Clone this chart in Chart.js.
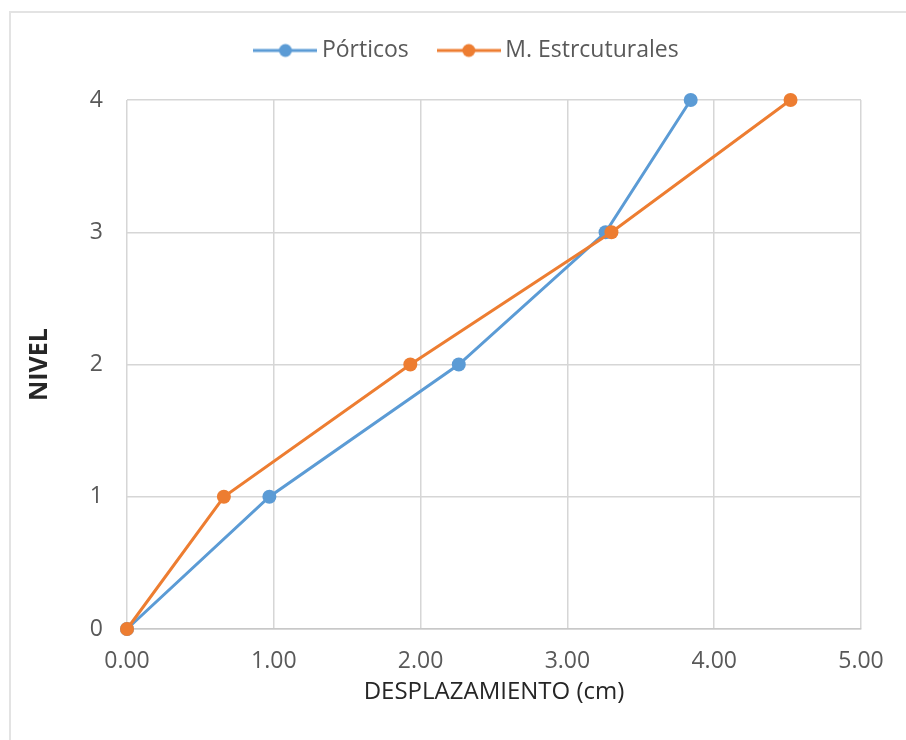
<!DOCTYPE html>
<html>
<head>
<meta charset="utf-8">
<script src="https://cdn.jsdelivr.net/npm/chart.js@4.4.0/dist/chart.umd.min.js"></script>
<style>
  html, body { margin: 0; padding: 0; background: #fff; }
  #wrap { position: relative; width: 906px; height: 740px; }
  #frame { position: absolute; left: 9px; top: 11px; right: 0; bottom: 0;
           border-left: 2px solid #e3e3e3; border-top: 2px solid #e3e3e3; }
  canvas { position: absolute; left: 0; top: 0; }
</style>
</head>
<body>
<div id="wrap">
  <div id="frame"></div>
  <canvas id="chart" width="906" height="740"></canvas>
</div>
<script>
// niveles y desplazamientos (cm)
const niveles = [0, 1, 2, 3, 4];
const porticos = [0, 0.97, 2.26, 3.26, 3.84];
const murosEstructurales = [0, 0.66, 1.93, 3.30, 4.52];
const seriesNames = ['Pórticos', 'M. Estrcuturales'];
const seriesColors = ['#5B9BD5', '#ED7D31'];
const xTicks = [0, 1, 2, 3, 4, 5];

const FONT = '"Open Sans", "DejaVu Sans", sans-serif';

// legend marker: line with a dot, Excel style
function legendMarker(color){
  const c = document.createElement('canvas');
  c.width = 64; c.height = 16;
  const g = c.getContext('2d');
  g.strokeStyle = color; g.lineWidth = 3;
  g.beginPath(); g.moveTo(0, 8); g.lineTo(64, 8); g.stroke();
  g.fillStyle = color;
  g.beginPath(); g.arc(32, 8, 6.5, 0, Math.PI*2); g.fill();
  return c;
}

const toPoints = xs => xs.map((x, i) => ({ x: x, y: niveles[i] }));

// extra room under the legend, and nudge it a bit to the right
const legendSpace = {
  id: 'legendSpace',
  beforeInit(chart){
    const fit = chart.legend.fit;
    chart.legend.fit = function(){
      fit.bind(chart.legend)();
      this.height += 28;
      if (this.lineWidths && this.lineWidths.length) this.lineWidths[0] -= 58;
    };
  }
};

new Chart(document.getElementById('chart').getContext('2d'), {
  type: 'scatter',
  data: {
    datasets: [
      { label: seriesNames[0], data: toPoints(porticos), showLine: true, clip: false,
        borderColor: seriesColors[0], backgroundColor: seriesColors[0],
        borderWidth: 3, pointRadius: 7, pointBorderWidth: 0, order: 1 },
      { label: seriesNames[1], data: toPoints(murosEstructurales), showLine: true, clip: false,
        borderColor: seriesColors[1], backgroundColor: seriesColors[1],
        borderWidth: 3, pointRadius: 7, pointBorderWidth: 0, order: 0 }
    ]
  },
  options: {
    responsive: false,
    animation: false,
    layout: { padding: { left: 20, right: 45, top: 4, bottom: 20 } },
    plugins: {
      tooltip: { enabled: false },
      legend: {
        position: 'top',
        labels: {
          usePointStyle: true,
          pointStyleWidth: 50,
          padding: 35,
          color: '#595959',
          font: { family: FONT, size: 23 },
          generateLabels: chart => chart.data.datasets.map((ds, i) => ({
            text: ds.label, pointStyle: legendMarker(seriesColors[i]),
            fillStyle: seriesColors[i], strokeStyle: seriesColors[i],
            lineWidth: 0, datasetIndex: i, hidden: false, fontColor: '#595959'
          }))
        }
      }
    },
    scales: {
      x: {
        type: 'linear', min: 0, max: 5,
        afterBuildTicks: s => { s.ticks = xTicks.map(v => ({ value: v })); },
        afterFit: s => { s.height = 91; },
        grid: { color: '#d6d6d6', lineWidth: 1.5, drawTicks: false },
        border: { display: true, color: '#c8c8c8', width: 1.5 },
        ticks: { padding: 19, color: '#595959', font: { family: FONT, size: 23 },
                 maxRotation: 0, callback: v => v.toFixed(2) },
        title: { display: true, text: 'DESPLAZAMIENTO (cm)', color: '#262626',
                 font: { family: FONT, size: 24 }, padding: { top: 4, bottom: 13 } }
      },
      y: {
        type: 'linear', min: 0, max: 4,
        ticks: { stepSize: 1, padding: 24, color: '#595959', font: { family: FONT, size: 23 } },
        grid: { color: '#d6d6d6', lineWidth: 1.5, drawTicks: false },
        border: { display: false },
        title: { display: true, text: 'NIVEL', color: '#262626',
                 font: { family: FONT, size: 25, weight: 'bold' }, padding: { top: 5, bottom: 0 } },
        afterFit: s => { s.width = 107; }
      }
    }
  },
  plugins: [legendSpace]
});
</script>
</body>
</html>
